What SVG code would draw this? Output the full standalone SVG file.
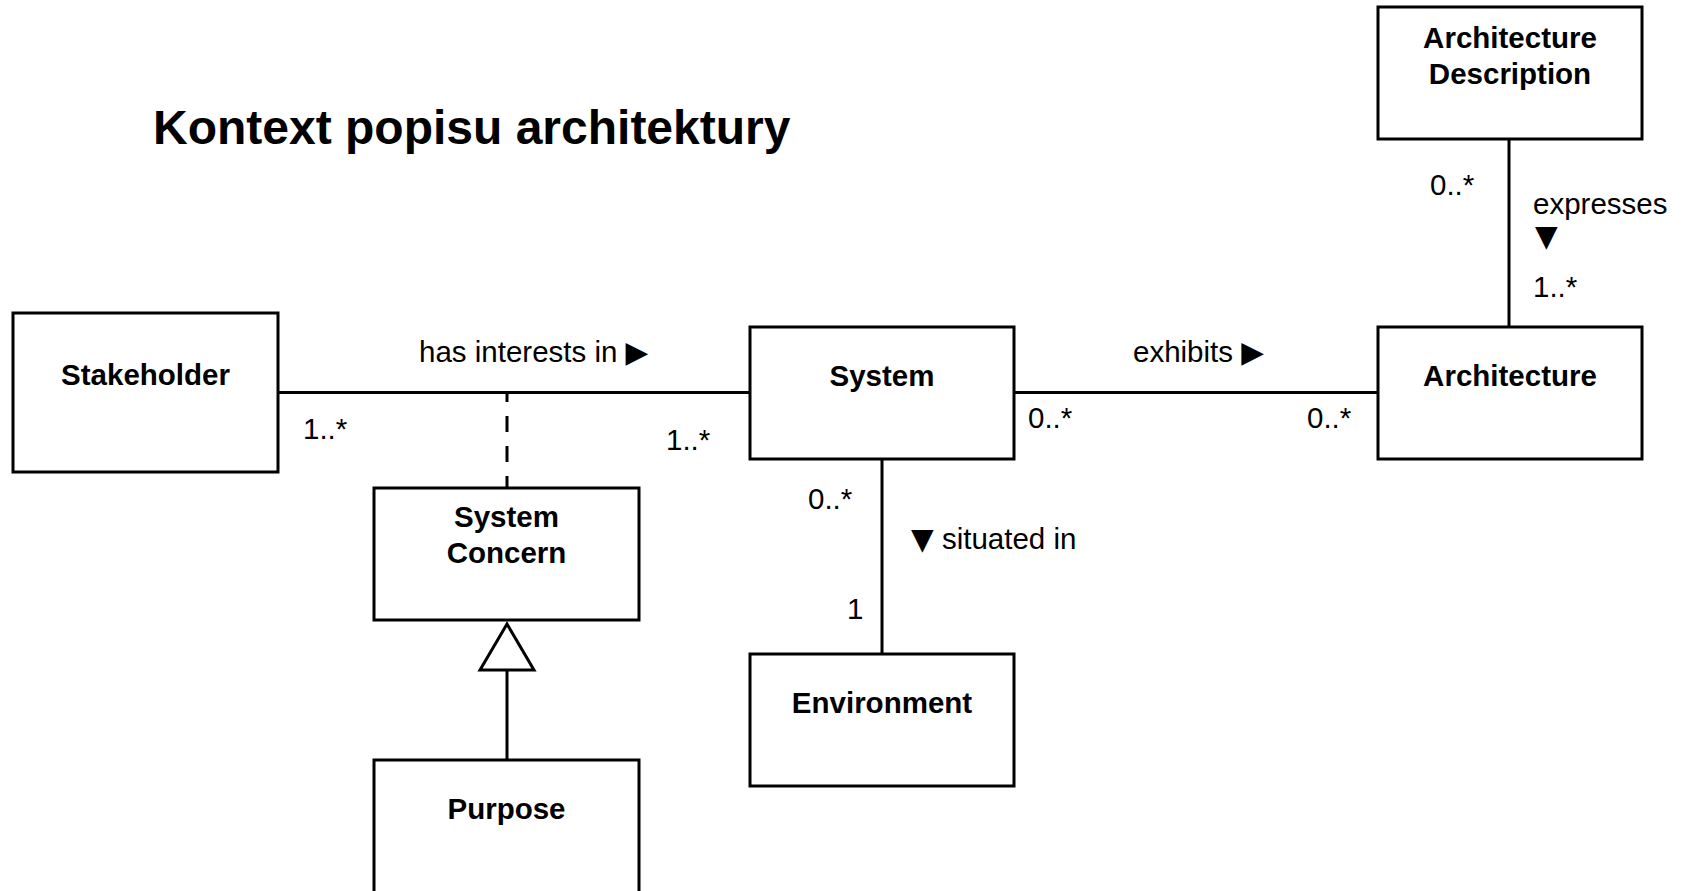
<svg xmlns="http://www.w3.org/2000/svg" width="1681" height="891" viewBox="0 0 1681 891">
  <style>
    .box { fill: #ffffff; stroke: #000000; stroke-width: 3; }
    .line { fill: none; stroke: #000000; stroke-width: 3; }
    .dash { stroke-dasharray: 16 14; stroke-dashoffset: 7; }
    .name { font-family: "Liberation Sans", Arial, sans-serif; font-weight: bold; font-size: 29.5px; text-anchor: middle; fill: #000000; }
    .lbl { font-family: "Liberation Sans", Arial, sans-serif; font-size: 29.5px; fill: #000000; }
    .sym { font-family: "DejaVu Sans", sans-serif; }
    .title { font-family: "Liberation Sans", Arial, sans-serif; font-weight: bold; font-size: 48px; fill: #000000; }
  </style>

  <rect width="1681" height="891" fill="#ffffff"/>

  <text class="title" x="153" y="144">Kontext popisu architektury</text>

  <!-- connectors -->
  <g id="connectors">
    <line class="line" x1="278" y1="392.5" x2="750" y2="392.5"/>
    <line class="line dash" x1="507" y1="393" x2="507" y2="488"/>
    <line class="line" x1="1014" y1="392.5" x2="1378" y2="392.5"/>
    <line class="line" x1="882" y1="459" x2="882" y2="654"/>
    <line class="line" x1="1509" y1="139" x2="1509" y2="327"/>
    <line class="line" x1="507" y1="670" x2="507" y2="760"/>
    <polygon class="box" points="507,624 480,670 534,670"/>

    <text class="lbl" x="419" y="362">has interests in <tspan class="sym">▶</tspan></text>
    <text class="lbl" x="303" y="439">1..*</text>
    <text class="lbl" x="666" y="450">1..*</text>
    <text class="lbl" x="1133" y="362">exhibits <tspan class="sym">▶</tspan></text>
    <text class="lbl" x="1028" y="428">0..*</text>
    <text class="lbl" x="1307" y="428">0..*</text>
    <text class="lbl" x="1430" y="195">0..*</text>
    <text class="lbl" x="1533" y="214">expresses</text>
    <text class="lbl sym" x="1535" y="246">▼</text>
    <text class="lbl" x="1533" y="297">1..*</text>
    <text class="lbl" x="808" y="509">0..*</text>
    <text class="lbl" x="847" y="619">1</text>
    <text class="lbl" x="911" y="549"><tspan class="sym">▼</tspan> situated in</text>
  </g>

  <!-- classes -->
  <g id="stakeholder">
    <rect class="box" x="13" y="313" width="265" height="159"/>
    <text class="name" x="145.5" y="385">Stakeholder</text>
  </g>
  <g id="system">
    <rect class="box" x="750" y="327" width="264" height="132"/>
    <text class="name" x="882" y="386">System</text>
  </g>
  <g id="architecture">
    <rect class="box" x="1378" y="327" width="264" height="132"/>
    <text class="name" x="1510" y="386">Architecture</text>
  </g>
  <g id="architecture-description">
    <rect class="box" x="1378" y="7" width="264" height="132"/>
    <text class="name" x="1510" y="48">Architecture</text>
    <text class="name" x="1510" y="84">Description</text>
  </g>
  <g id="system-concern">
    <rect class="box" x="374" y="488" width="265" height="132"/>
    <text class="name" x="506.5" y="527">System</text>
    <text class="name" x="506.5" y="563">Concern</text>
  </g>
  <g id="environment">
    <rect class="box" x="750" y="654" width="264" height="132"/>
    <text class="name" x="882" y="713">Environment</text>
  </g>
  <g id="purpose">
    <rect class="box" x="374" y="760" width="265" height="140"/>
    <text class="name" x="506.5" y="819">Purpose</text>
  </g>
</svg>
